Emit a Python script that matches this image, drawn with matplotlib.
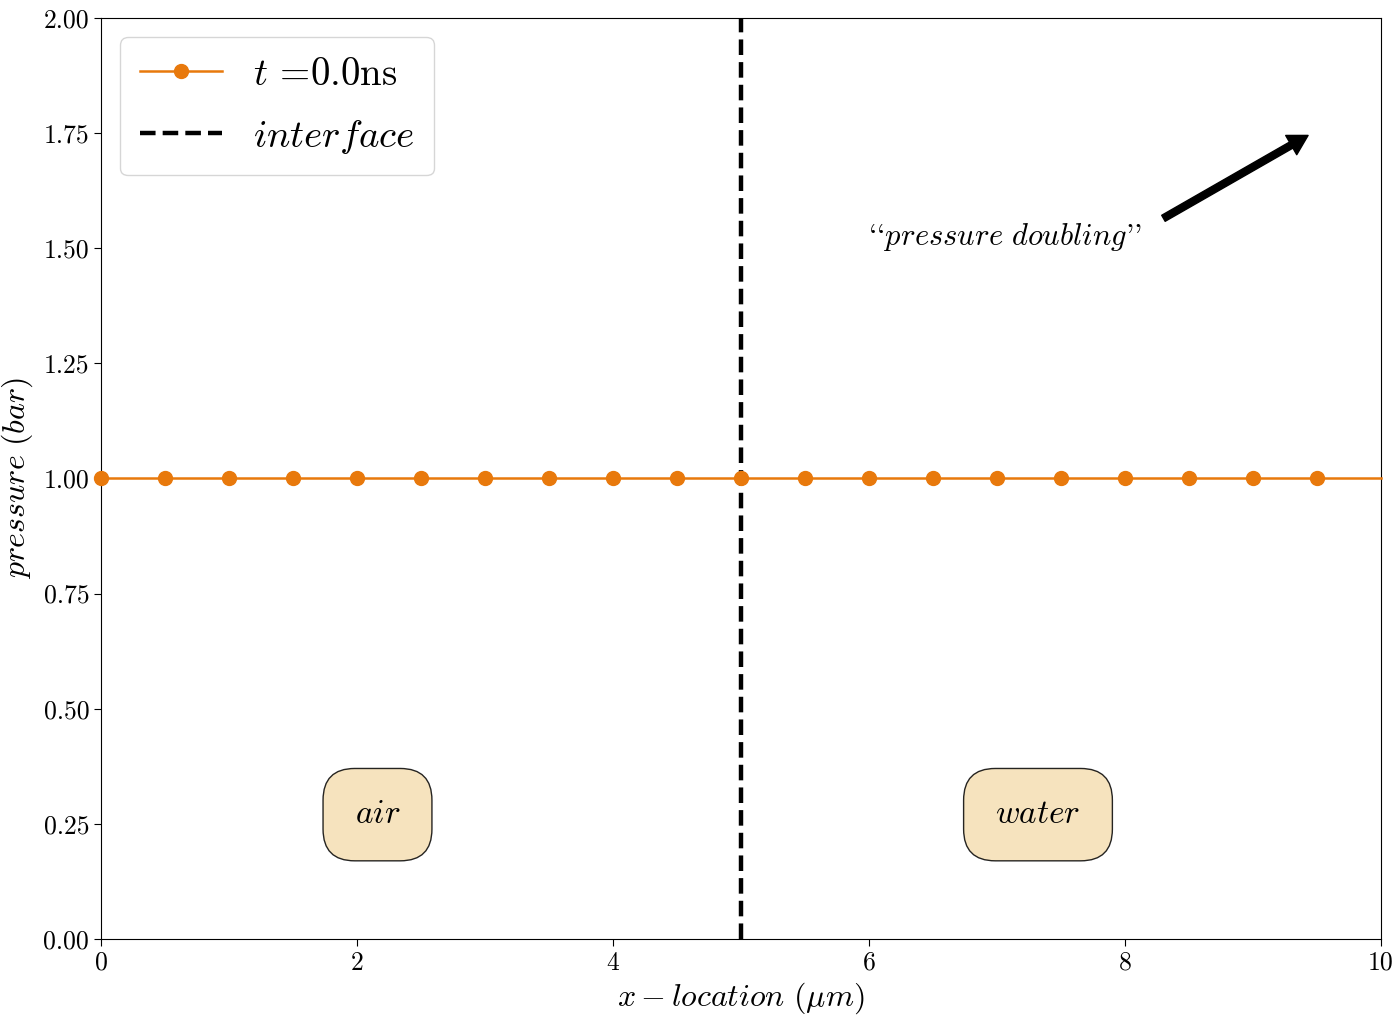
import matplotlib
matplotlib.use("Agg")
import matplotlib.pyplot as plt
from matplotlib.ticker import FormatStrFormatter

# Computer Modern look for all text
plt.rcParams['font.family'] = 'serif'
plt.rcParams['font.serif'] = ['cmr10']
plt.rcParams['mathtext.fontset'] = 'cm'
plt.rcParams['axes.unicode_minus'] = False
plt.rcParams['axes.formatter.use_mathtext'] = True

# initial pressure field along x
x_loc = [0.0, 0.5, 1.0, 1.5, 2.0, 2.5, 3.0, 3.5, 4.0, 4.5, 5.0,
         5.5, 6.0, 6.5, 7.0, 7.5, 8.0, 8.5, 9.0, 9.5, 10.0]
pressure = [1.0] * 21
time_ns = 0.0
interface_x = 5.0

orange = '#e8790c'

fig = plt.figure(figsize=(13.95, 10.16), dpi=100)
ax = fig.add_axes([0.0724, 0.0758, 0.9176, 0.9065])

ax.plot(x_loc, pressure, '-o', color=orange, lw=1.8, ms=10,
        markevery=slice(0, 20), clip_on=False, zorder=3,
        label=r'$t$ =' + '%.1fns' % time_ns)
ax.axvline(interface_x, color='black', ls='--', lw=3.2, dashes=(3.5, 1.6),
           label=r'$interface$')

ax.set_xlim(0, 10)
ax.set_ylim(0, 2)
ax.set_yticks([0, 0.25, 0.5, 0.75, 1.0, 1.25, 1.5, 1.75, 2.0])
ax.set_xticks([0, 2, 4, 6, 8, 10])
ax.yaxis.set_major_formatter(FormatStrFormatter('%.2f'))
ax.xaxis.set_major_formatter(FormatStrFormatter('%d'))
ax.tick_params(labelsize=18.5, length=5)

ax.set_xlabel(r'$x-location\ (\mu m)$', fontsize=23, labelpad=4)
ax.set_ylabel(r'$pressure\ (bar)$', fontsize=23, labelpad=6)

# region labels
box = dict(boxstyle='round,pad=0.95', facecolor='wheat', edgecolor='black', alpha=0.85)
ax.text(2.16, 0.27, r'$air$', fontsize=24, ha='center', va='center', bbox=box)
ax.text(7.32, 0.27, r'$water$', fontsize=24, ha='center', va='center', bbox=box)

# arrow pointing toward the doubled pressure level
ax.text(7.06, 1.525, '``' + r'$pressure\ doubling$' + "''", fontsize=22,
        ha='center', va='center')
ax.annotate('', xy=(9.43, 1.745), xytext=(8.30, 1.565),
            arrowprops=dict(facecolor='black', edgecolor='black',
                            width=5, headwidth=16, headlength=14))

ax.legend(loc='upper left', fontsize=28, handlelength=2.1,
          borderpad=0.5, labelspacing=0.65, framealpha=0.8)

fig.savefig('out.png', dpi=100)
